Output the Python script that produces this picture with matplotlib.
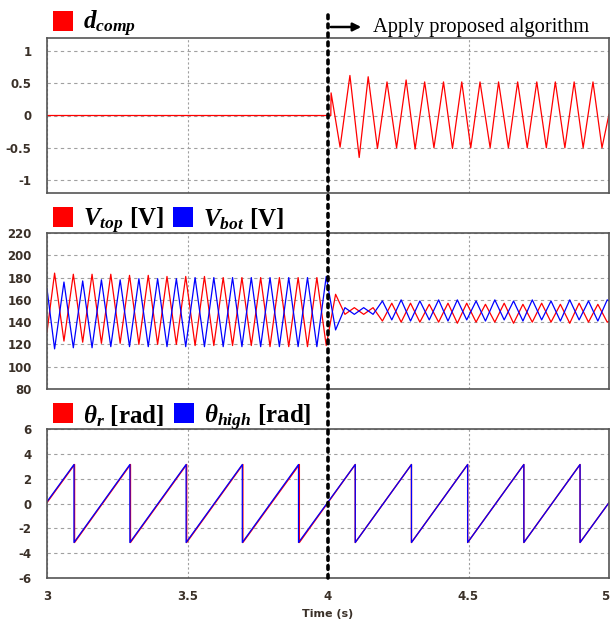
import numpy as np
import matplotlib
matplotlib.use('Agg')
import matplotlib.pyplot as plt
from matplotlib.patches import Rectangle, FancyArrowPatch
from matplotlib.transforms import ScaledTranslation

plt.rcParams['mathtext.fontset'] = 'custom'
plt.rcParams['mathtext.rm'] = 'Liberation Serif'
plt.rcParams['mathtext.it'] = 'Liberation Serif:italic'
plt.rcParams['mathtext.bf'] = 'Liberation Serif:bold'
plt.rcParams['mathtext.bfit'] = 'Liberation Serif:italic:bold'

# ---- data ----
# d_comp vertices (time, value)
dcomp_t = [3.0, 4.010, 4.011, 4.043, 4.078, 4.111, 4.143, 4.176, 4.210, 4.244,
           4.278, 4.310, 4.344, 4.377, 4.411, 4.443, 4.476, 4.508, 4.541, 4.577,
           4.607, 4.642, 4.675, 4.709, 4.743, 4.777, 4.809, 4.843, 4.876, 4.908,
           4.943, 4.975, 5.0]
dcomp_v = [0.0, 0.0, 0.35, -0.49, 0.62, -0.65, 0.60, -0.51, 0.52, -0.50,
           0.55, -0.52, 0.52, -0.50, 0.52, -0.51, 0.52, -0.50, 0.52, -0.50,
           0.52, -0.50, 0.52, -0.50, 0.52, -0.50, 0.52, -0.50, 0.52, -0.50,
           0.52, -0.50, 0.02]

# voltage extrema, one every half period (15 Hz), first at 3.027 s
v_first_ext = 3.027
v_half_period = 1 / 30
vtop_start, vtop_end = 131, 141
vbot_start, vbot_end = 170, 159
vtop_ext = [184, 123, 183, 122, 183, 121, 183, 121, 182, 120, 182, 120, 181, 120, 181,
            119, 181, 119, 180, 119, 180, 119, 180, 118, 180, 118, 180, 118, 180, 119,
            165, 147, 153, 147, 153, 141, 157, 140, 157, 140, 156, 140, 157, 139, 157,
            140, 156, 140, 157, 139, 156, 140, 157, 140, 156, 139, 157, 140, 156, 140]
vbot_ext = [116, 176, 117, 177, 117, 178, 118, 178, 118, 179, 118, 179, 118, 179, 118,
            180, 118, 180, 118, 180, 118, 180, 118, 180, 118, 180, 118, 180, 118, 181,
            133, 153, 147, 153, 147, 159, 142, 160, 141, 159, 142, 160, 141, 160, 142,
            159, 141, 160, 142, 159, 141, 160, 142, 159, 141, 160, 142, 159, 141, 160]

# angle wrap times
theta_high_resets = [3.096, 3.295, 3.495, 3.695, 3.895, 4.097, 4.297, 4.497, 4.697, 4.897]
theta_r_resets = [3.098, 3.297, 3.497, 3.697, 3.898, 4.097, 4.297, 4.497, 4.697, 4.897]
theta_high_ends = (0.15, 0.07)
theta_r_ends = (0.08, 0.07)
theta_peak = 3.14

xticks = [3, 3.5, 4, 4.5, 5]
xtick_labels = ['3', '3.5', '4', '4.5', '5']


def wrap_series(resets, ends):
    t = [3.0]
    v = [ends[0]]
    for r in resets:
        t += [r, r]
        v += [theta_peak, -theta_peak]
    t.append(5.0)
    v.append(ends[1])
    return t, v


n_ext = len(vtop_ext)
ext_t = v_first_ext + np.arange(n_ext) * v_half_period
v_t = np.concatenate([[3.0], ext_t, [5.0]])
vtop = np.concatenate([[vtop_start], vtop_ext, [vtop_end]])
vbot = np.concatenate([[vbot_start], vbot_ext, [vbot_end]])

th_t, th_v = wrap_series(theta_high_resets, theta_high_ends)
tr_t, tr_v = wrap_series(theta_r_resets, theta_r_ends)

# ---- figure ----
W, H = 611, 619
fig = plt.figure(figsize=(W / 100, H / 100), dpi=100)


def px_axes(top, bottom, left=47, right=609):
    return fig.add_axes([left / W, 1 - bottom / H, (right - left) / W, (bottom - top) / H])


ax1 = px_axes(38, 193)
ax2 = px_axes(233, 389)
ax3 = px_axes(429, 578)

tick_color = '#3a3028'
for ax in (ax1, ax2, ax3):
    ax.set_xlim(3, 5)
    ax.set_xticks(xticks)
    ax.set_xticklabels(xtick_labels)
    ax.tick_params(length=0, pad=11, labelsize=8.5, colors=tick_color)
    ax.grid(axis='y', color='#a0a0a0', linestyle=(0, (3, 3)), linewidth=0.8)
    ax.grid(axis='x', color='#a0a0a0', linestyle=(0, (2, 2)), linewidth=0.8)
    ax.set_axisbelow(True)
    for sp in ax.spines.values():
        sp.set_color('#555555')
        sp.set_linewidth(1.2)

ax1.tick_params(labelbottom=False)
ax2.tick_params(labelbottom=False)

ax1.plot(dcomp_t, dcomp_v, color='red', lw=0.9)
ax1.set_ylim(-1.2, 1.2)
ax1.set_yticks([-1, -0.5, 0, 0.5, 1])
ax1.set_yticklabels(['-1', '-0.5', '0', '0.5', '1'], fontweight='bold')

ax2.plot(v_t, vtop, color='red', lw=0.9)
ax2.plot(v_t, vbot, color='blue', lw=0.9)
ax2.set_ylim(80, 220)
ax2.set_yticks(range(80, 221, 20))
ax2.set_yticklabels([str(v) for v in range(80, 221, 20)], fontweight='bold')

ax3.plot(tr_t, tr_v, color='red', lw=1.0)
ax3.plot(th_t, th_v, color='blue', lw=0.9)
ax3.set_ylim(-6, 6)
ax3.set_yticks(range(-6, 7, 2))
ax3.set_yticklabels([str(v) for v in range(-6, 7, 2)], fontweight='bold')
ax3.set_xticklabels(xtick_labels, fontweight='bold')
ax3.set_xlabel('Time (s)', fontsize=8, fontweight='bold', color=tick_color, labelpad=4)
ax3.tick_params(axis='x', pad=9)
last = ax3.get_xticklabels()[-1]
last.set_transform(last.get_transform() + ScaledTranslation(-4 / 100, 0, fig.dpi_scale_trans))


# panel labels with colour squares
def square(x, y, color):
    fig.patches.append(Rectangle((x / W, 1 - (y + 20) / H), 20 / W, 20 / H,
                                 transform=fig.transFigure, facecolor=color,
                                 edgecolor='none'))


def label(x, y, s):
    fig.text(x / W, 1 - y / H, s, fontsize=18, fontfamily='Liberation Serif',
             fontweight='bold', va='baseline', ha='left')


square(53, 11, 'red')
label(83, 29, r'$\mathbfit{d}_{\mathbfit{comp}}$')
square(53, 207, 'red')
label(83, 226, r'$\mathbfit{V}_{\mathbfit{top}}$ [V]')
square(173, 207, 'blue')
label(203, 226, r'$\mathbfit{V}_{\mathbfit{bot}}$ [V]')
square(53, 403, 'red')
label(83, 423, r'$\mathbfit{\theta}_{\mathbfit{r}}$ [rad]')
square(174, 403, 'blue')
label(204, 423, r'$\mathbfit{\theta}_{\mathbfit{high}}$ [rad]')

# event marker at t = 4 s spanning all panels
x4 = ax1.transData.transform((4.0, 0))[0] / fig.dpi / fig.get_figwidth()
fig.add_artist(plt.Line2D([x4, x4], [1 - 15 / H, 1 - 578 / H], transform=fig.transFigure,
                          color='black', lw=2.6, linestyle=(0, (1.0, 1.5)),
                          dash_capstyle='round'))
fig.add_artist(FancyArrowPatch((x4, 1 - 27 / H), (364 / W, 1 - 27 / H),
                               transform=fig.transFigure, arrowstyle='-|>',
                               mutation_scale=12, color='black', lw=1.8))
fig.text(373 / W, 1 - 32 / H, 'Apply proposed algorithm', fontsize=14.8,
         fontfamily='Liberation Serif', va='baseline', ha='left')

fig.savefig('out.png', dpi=100)
